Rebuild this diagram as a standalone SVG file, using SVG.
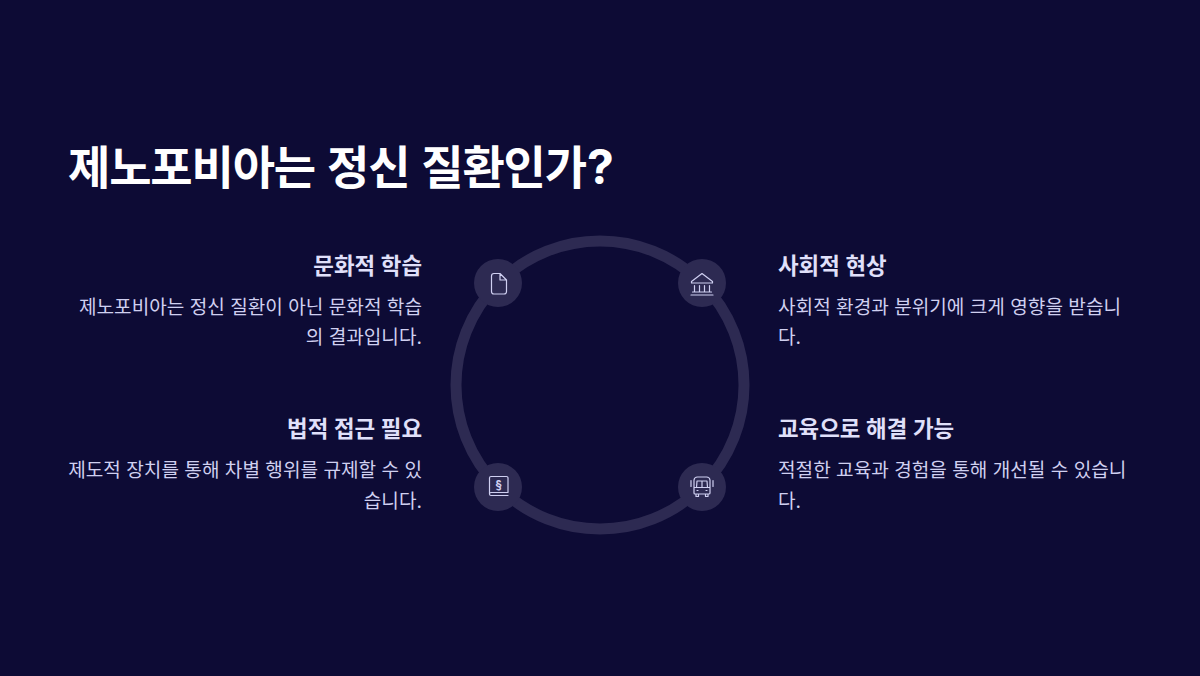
<svg xmlns="http://www.w3.org/2000/svg" width="1200" height="676" viewBox="0 0 1200 676">
<style>
text{font-family:Inter,"Noto Sans CJK KR",sans-serif}
.t{font-size:46px;font-weight:700;fill:#fff;letter-spacing:-1.15px;word-spacing:2.2px}
.h{font-size:22.4px;font-weight:600;fill:#e0e0fa}
.b{font-size:19.1px;font-weight:400;fill:#d0d0f0}
.r{text-anchor:end}
.c{fill:#2d2a52}
.i{fill:none;stroke:#d0d0f2;stroke-width:1.2;stroke-linejoin:round;stroke-linecap:round}
</style>
<rect width="1200" height="676" fill="#0d0b35"/>
<text class="t" x="68" y="184">제노포비아는 정신 질환인가<tspan dx="1" style="font-size:48px">?</tspan></text>
<g id="connectors"><circle cx="600" cy="385" r="144" fill="none" stroke="#2d2a52" stroke-width="11"/></g>
<g id="n1"><circle class="c" cx="498" cy="283" r="24"/><path class="i" d="M494 273.500h6l6.500 6.500v11.500a2.500 2.500 0 0 1-2.500 2.500h-10a2.500 2.500 0 0 1-2.500-2.500v-15.500a2.500 2.500 0 0 1 2.500-2.500zM500 273.500v6.500h6.500"/>
<text class="h r" x="422" y="274">문화적 학습</text><text class="b r" x="422" y="314">제노포비아는 정신 질환이 아닌 문화적 학습</text><text class="b r" x="422" y="344">의 결과입니다.</text></g>
<g id="n2"><circle class="c" cx="702" cy="283" r="24"/><path class="i" d="M691.500 281.500l10.500-8 10.500 8v1.500h-21zM694.500 285.500v6M699.500 285.500v6M704.500 285.500v6M709.500 285.500v6M692.500 292h19M691 295h22"/>
<text class="h" x="778" y="274">사회적 현상</text><text class="b" x="778" y="314">사회적 환경과 분위기에 크게 영향을 받습니</text><text class="b" x="778" y="344">다.</text></g>
<g id="n3"><circle class="c" cx="498" cy="487" r="24"/><path class="i" d="M489.500 494v-16a1.500 1.500 0 0 1 1.500-1.500h15.500a1.500 1.500 0 0 1 1.500 1.500v14.500h-17a1.500 1.500 0 0 0-1.500 1.500 1.500 1.500 0 0 0 1.500 1.500h17"/><text x="498.700" y="489" text-anchor="middle" style="font-size:11.500px;font-weight:700;fill:#d0d0f2">§</text>
<text class="h r" x="422" y="437">법적 접근 필요</text><text class="b r" x="422" y="477">제도적 장치를 통해 차별 행위를 규제할 수 있</text><text class="b r" x="422" y="508">습니다.</text></g>
<g id="n4"><circle class="c" cx="702" cy="487" r="24"/><path class="i" d="M694 493v-13a3.500 3.500 0 0 1 3.500-3h9a3.500 3.500 0 0 1 3.500 3v13a1 1 0 0 1-1 1h-14a1 1 0 0 1-1-1zM694 487.500h16M696.500 487.500l.5-6.500h10l.5 6.500M702 481v6.500M696 494v2.500h2.500v-2.500M705.500 494v2.500h2.500v-2.500M691 480.500v6M713 480.500v6M697 490.500h1M706 490.500h1"/>
<text class="h" x="778" y="437">교육으로 해결 가능</text><text class="b" x="778" y="477">적절한 교육과 경험을 통해 개선될 수 있습니</text><text class="b" x="778" y="508">다.</text></g>
</svg>
